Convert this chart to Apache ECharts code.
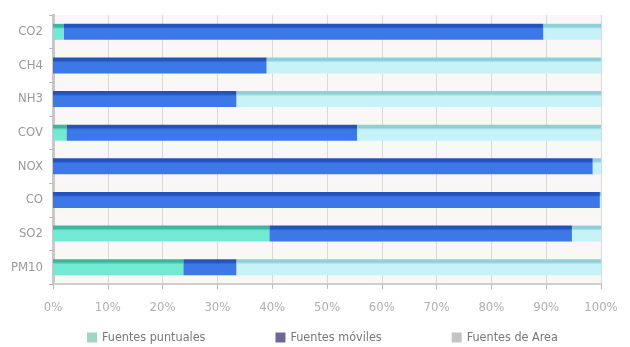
<!DOCTYPE html>
<html>
<head>
<meta charset="utf-8">
<script src="https://cdn.jsdelivr.net/npm/echarts@6/dist/echarts.min.js"></script>
<style>
  html, body { margin: 0; padding: 0; background: #fff; }
  #chart { width: 630px; height: 347px; }
</style>
</head>
<body>
<div id="chart"></div>
<script>
var categories = ["CO2", "CH4", "NH3", "COV", "NOX", "CO", "SO2", "PM10"];
var puntuales = [2, 0, 0, 2.5, 0, 0, 39.5, 23.8];
var moviles = [87.5, 39, 33.5, 53, 98.5, 99.8, 55.2, 9.7];
var area = [10.5, 61, 66.5, 44.5, 1.5, 0.2, 5.3, 66.5];
var seriesNames = ["Fuentes puntuales", "Fuentes móviles", "Fuentes de Area"];

var font = "'DejaVu Sans', sans-serif";
var narrow = "condensed"; // fuente estrecha como en el original

// barra con borde superior oscuro (efecto 3D)
function barColor(top, main) {
  return new echarts.graphic.LinearGradient(0, 0, 0, 1, [
    { offset: 0, color: top },
    { offset: 0.18, color: top },
    { offset: 0.32, color: main },
    { offset: 1, color: main }
  ]);
}

function makeSeries(name, values, top, main) {
  return {
    name: name,
    type: "bar",
    stack: "total",
    barWidth: 16,
    data: values,
    itemStyle: { color: barColor(top, main) },
    emphasis: { disabled: true }
  };
}

var chart = echarts.init(document.getElementById("chart"));
chart.setOption({
  animation: false,
  grid: { left: 53, right: 29, top: 15, bottom: 63 },
  legend: {
    left: 82,
    top: 326,
    itemWidth: 10,
    itemHeight: 10,
    itemGap: 70,
    icon: "rect",
    textStyle: { color: "#777", fontSize: 12.5, fontStyle: narrow, fontFamily: font },
    data: [
      { name: seriesNames[0], itemStyle: { color: "#9fd6c8" } },
      { name: seriesNames[1], itemStyle: { color: "#6a6a98" } },
      { name: seriesNames[2], itemStyle: { color: "#c4c4c4" } }
    ]
  },
  xAxis: {
    type: "value",
    min: 0,
    max: 100,
    interval: 10,
    axisLine: { show: true, lineStyle: { color: "#cfcfcf", width: 2 } },
    axisTick: { show: true, length: 5, lineStyle: { color: "#bbb" } },
    axisLabel: {
      formatter: "{value}%",
      color: "#b0b0b0",
      fontSize: 13,
      fontStyle: narrow,
      fontFamily: font,
      verticalAlign: "middle",
      margin: 24
    },
    splitLine: { show: true, lineStyle: { color: "#d8d8d8" } }
  },
  yAxis: {
    type: "category",
    inverse: true,
    data: categories,
    axisLine: { show: true, lineStyle: { color: "#c8c8c8", width: 3 } },
    axisTick: { show: true, length: 4, lineStyle: { color: "#bbb" } },
    axisLabel: { color: "#999", fontSize: 13, fontStyle: narrow, fontFamily: font, margin: 10 },
    splitArea: { show: true, areaStyle: { color: ["#faf6fa", "#f7f9f2"] } }
  },
  series: [
    makeSeries(seriesNames[0], puntuales, "#3fb59e", "#72ead3"),
    makeSeries(seriesNames[1], moviles, "#2453bb", "#3d78e8"),
    makeSeries(seriesNames[2], area, "#8fcfd8", "#c6f2f8")
  ]
});
</script>
</body>
</html>
